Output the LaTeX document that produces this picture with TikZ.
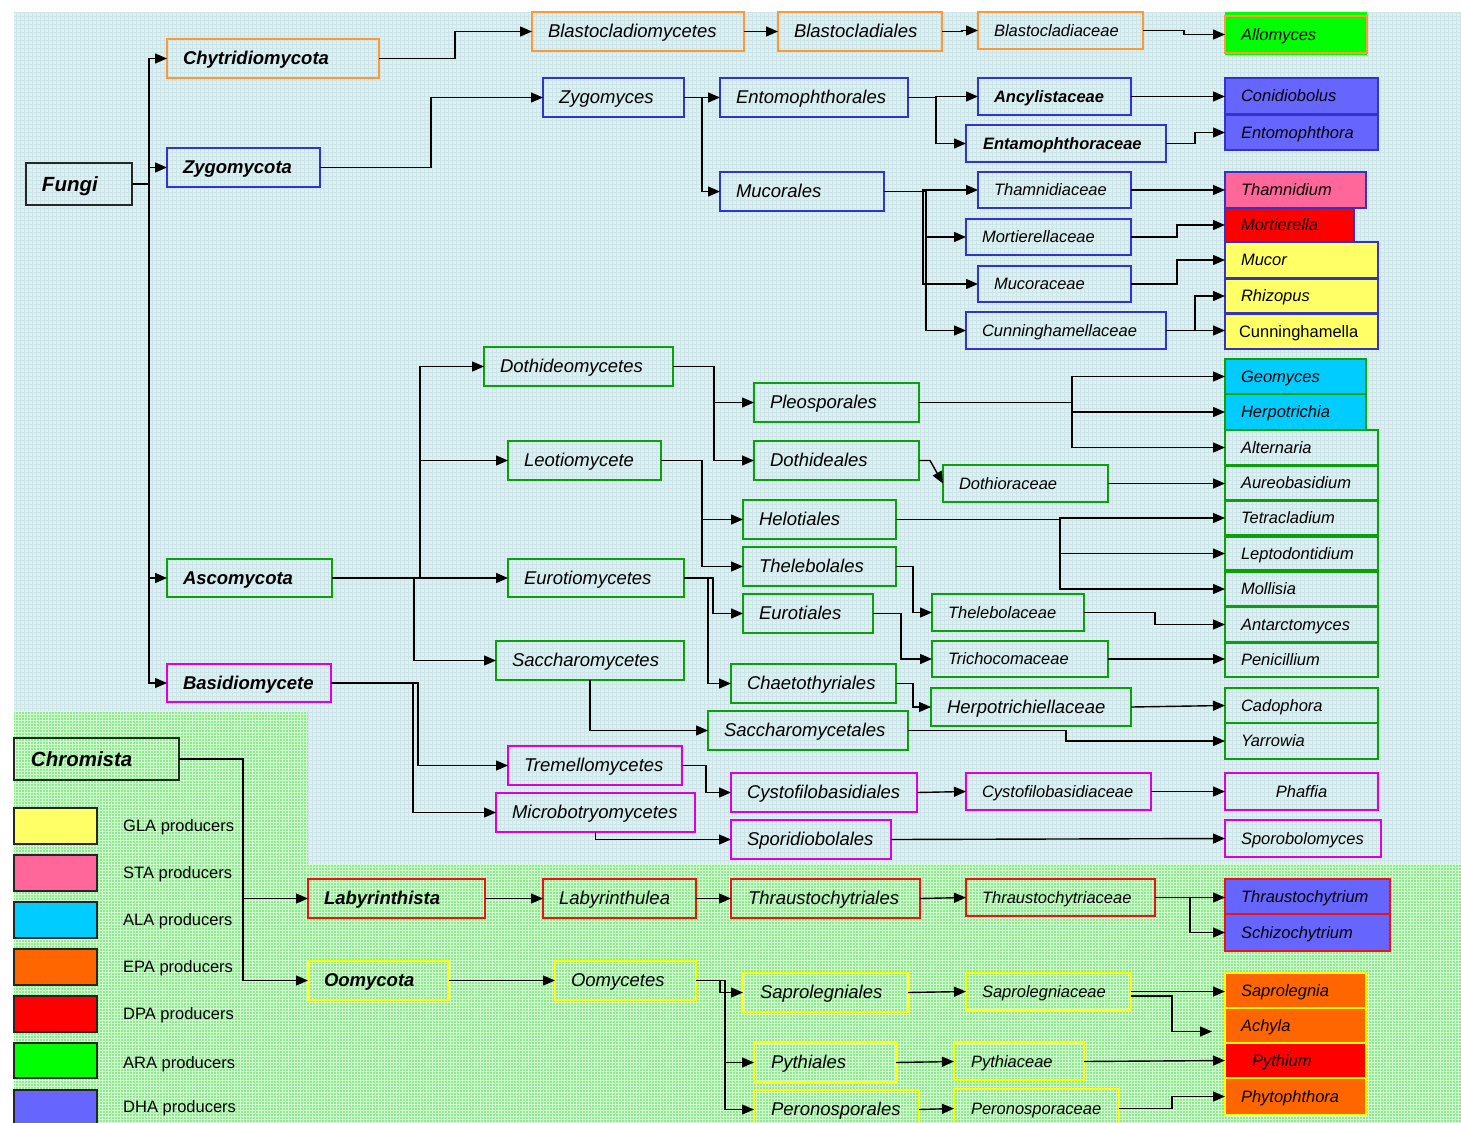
\documentclass[tikz,border=0pt]{standalone}
\usepackage{fontspec}
\setmainfont{Liberation Sans}
\usetikzlibrary{arrows.meta}
\definecolor{bgB}{RGB}{224,240,242}
\definecolor{grB}{RGB}{204,229,232}
\definecolor{bgG}{RGB}{140,236,140}
\definecolor{grG}{RGB}{212,250,212}
\definecolor{cO}{RGB}{255,153,51}
\definecolor{cB}{RGB}{51,51,204}
\definecolor{cG}{RGB}{10,160,10}
\definecolor{cM}{RGB}{220,0,220}
\definecolor{cR}{RGB}{235,20,20}
\definecolor{cY}{RGB}{255,255,0}
\definecolor{fGLA}{RGB}{255,255,102}
\definecolor{fSTA}{RGB}{255,102,153}
\definecolor{fALA}{RGB}{0,204,255}
\definecolor{fEPA}{RGB}{255,102,0}
\definecolor{fDPA}{RGB}{255,0,0}
\definecolor{fARA}{RGB}{0,255,0}
\definecolor{fDHA}{RGB}{102,102,255}
\newcommand\bx[8][16]{%
  \pgfmathsetmacro\bw{#5-#3}\pgfmathsetmacro\bh{#6-#4}%
  \node[box,#7,minimum width=\bw pt,minimum height=\bh pt,text width=\bw pt] (#2) at (#3,#4) {\noindent\hspace*{#1pt}\rule[-0.2em]{0pt}{1.1em}\mbox{#8}};}
\begin{document}
\begin{tikzpicture}[x=1pt,y=-1pt,
  box/.style={draw, line width=1.5pt, inner sep=0pt, outer sep=0pt, anchor=north west, align=left},
  L/.style={font=\fontsize{18.5}{21}\selectfont\itshape},
  S/.style={font=\fontsize{16.5}{19}\selectfont\itshape},
  LB/.style={font=\fontsize{18.5}{21}\selectfont\bfseries\itshape},
  SB/.style={font=\fontsize{16.5}{19}\selectfont\bfseries\itshape},
  XB/.style={font=\fontsize{20.5}{23}\selectfont\bfseries\itshape},
  SU/.style={font=\fontsize{16.5}{19}\selectfont},
  bO/.style={draw=cO}, bB/.style={draw=cB}, bG/.style={draw=cG},
  bM/.style={draw=cM}, bR/.style={draw=cR}, bY/.style={draw=cY}, bK/.style={draw=black!85},
  arr/.style={draw=black, line width=1.4pt, -{Triangle[length=12pt,width=10pt]}},
  legtxt/.style={SU, anchor=west, inner sep=0pt}]
\useasboundingbox (0,0) rectangle (1461,1122);
\clip (0,0) rectangle (1461,1122);
% background
\fill[white] (0,0) rectangle (1461,1122);
\fill[bgB] (14,12) rectangle (1461,864);
\draw[grB, line width=.5pt] (14,12) grid[step=4pt] (1461,864);
\fill[bgG] (14,711) rectangle (308,1122);
\fill[bgG] (308,864) rectangle (1461,1122);
\draw[grG, line width=.6pt] (14,711) grid[step=3pt] (308,1122);
\draw[grG, line width=.6pt] (308,864) grid[step=3pt] (1461,1122);

% ---------- Fungi ----------
\bx{fungi}{26}{163}{132}{205}{XB,bK}{Fungi}
\bx{chy}{167}{39}{379}{78}{LB,bO}{Chytridiomycota}
\bx{zyg}{167}{148}{320}{187}{LB,bB}{Zygomycota}
\bx{asc}{167}{559}{332}{597}{LB,bG}{Ascomycota}
\bx{bas}{167}{664}{331}{702}{LB,bM}{Basidiomycete}

\bx{blcm}{532}{12}{744}{51}{L,bO}{Blastocladiomycetes}
\bx{blcl}{778}{12}{942}{51}{L,bO}{Blastocladiales}
\bx{blca}{978}{12}{1143}{49}{S,bO}{Blastocladiaceae}
\fill[fARA] (1225,12) rectangle (1367,55);
\bx{allo}{1225}{16}{1367}{53}{S,bO,fill=fARA}{Allomyces}

\bx{zygm}{543}{78}{684}{117}{L,bB}{Zygomyces}
\bx{ento}{720}{78}{908}{117}{L,bB}{Entomophthorales}
\bx{muco}{720}{172}{884}{211}{L,bB}{Mucorales}
\bx{ancy}{978}{78}{1131}{115}{SB,bB}{Ancylistaceae}
\bx[17]{enta}{966}{125}{1166}{162}{SB,bB}{Entamophthoraceae}
\bx{coni}{1225}{78}{1378}{114}{S,bB,fill=fDHA}{Conidiobolus}
\bx{entg}{1225}{115}{1378}{150}{S,bB,fill=fDHA}{Entomophthora}
\bx{thfa}{978}{172}{1131}{208}{S,bB}{Thamnidiaceae}
\bx{mofa}{966}{219}{1131}{255}{S,bB}{Mortierellaceae}
\bx{mufa}{978}{266}{1131}{302}{S,bB}{Mucoraceae}
\bx{cufa}{966}{312}{1166}{349}{S,bB}{Cunninghamellaceae}
\bx{thge}{1225}{172}{1366}{208}{S,bB,fill=fSTA}{Thamnidium}
\bx{moge}{1225}{208}{1354}{242}{S,bB,fill=fDPA}{Mortierella}
\bx{muge}{1225}{242}{1378}{278}{S,bB,fill=fGLA}{Mucor}
\bx{rhge}{1225}{279}{1378}{313}{S,bB,fill=fGLA}{Rhizopus}
\bx[14]{cuge}{1225}{314}{1378}{349}{SU,bB,fill=fGLA}{Cunninghamella}

% ---------- Ascomycota ----------
\bx{doth}{484}{347}{673}{386}{L,bG}{Dothideomycetes}
\bx{leot}{508}{441}{661}{480}{L,bG}{Leotiomycete}
\bx{euro}{508}{559}{684}{597}{L,bG}{Eurotiomycetes}
\bx{sacc}{496}{641}{684}{680}{L,bG}{Saccharomycetes}
\bx{pleo}{754}{383}{919}{422}{L,bG}{Pleosporales}
\bx{dotl}{754}{441}{919}{480}{L,bG}{Dothideales}
\bx{helo}{743}{500}{896}{539}{L,bG}{Helotiales}
\bx{thel}{743}{547}{896}{586}{L,bG}{Thelebolales}
\bx{eurl}{743}{594}{873}{633}{L,bG}{Eurotiales}
\bx{chae}{731}{664}{896}{703}{L,bG}{Chaetothyriales}
\bx{sacl}{708}{711}{908}{750}{L,bG}{Saccharomycetales}
\bx{dotf}{943}{465}{1108}{502}{S,bG}{Dothioraceae}
\bx{thef}{932}{594}{1084}{631}{S,bG}{Thelebolaceae}
\bx{trif}{932}{641}{1108}{677}{S,bG}{Trichocomaceae}
\bx{herf}{931}{688}{1131}{726}{L,bG}{Herpotrichiellaceae}
\bx{geom}{1225}{359}{1366}{394}{S,bG,fill=fALA}{Geomyces}
\bx{herp}{1225}{394}{1366}{430}{S,bG,fill=fALA}{Herpotrichia}
\bx{alte}{1225}{430}{1378}{465}{S,bG}{Alternaria}
\bx{aure}{1225}{466}{1378}{500}{S,bG}{Aureobasidium}
\bx{tetr}{1225}{501}{1378}{535}{S,bG}{Tetracladium}
\bx{lept}{1225}{537}{1378}{570}{S,bG}{Leptodontidium}
\bx{moll}{1225}{572}{1378}{606}{S,bG}{Mollisia}
\bx{anta}{1225}{607}{1378}{642}{S,bG}{Antarctomyces}
\bx{peni}{1225}{643}{1378}{677}{S,bG}{Penicillium}
\bx{cado}{1225}{688}{1378}{723}{S,bG}{Cadophora}
\bx{yarr}{1225}{723}{1378}{759}{S,bG}{Yarrowia}

% ---------- Basidiomycete ----------
\bx{trem}{508}{746}{682}{785}{L,bM}{Tremellomycetes}
\bx{micr}{496}{793}{695}{832}{L,bM}{Microbotryomycetes}
\bx{cysl}{731}{773}{917}{812}{L,bM}{Cystofilobasidiales}
\bx{spor}{731}{820}{891}{859}{L,bM}{Sporidiobolales}
\bx{cysf}{966}{773}{1151}{810}{S,bM}{Cystofilobasidiaceae}
\bx[0]{phaf}{1225}{773}{1378}{810}{S,bM,align=center}{Phaffia}
\bx{spog}{1225}{820}{1381}{857}{S,bM}{Sporobolomyces}

% ---------- Chromista ----------
\bx[17]{chro}{14}{738}{179}{780}{XB,bK}{Chromista}
\bx{laby}{308}{879}{485}{918}{LB,bR}{Labyrinthista}
\bx{labu}{543}{879}{696}{918}{L,bR}{Labyrinthulea}
\bx[17]{thrl}{731}{879}{920}{918}{L,bR}{Thraustochytriales}
\bx{thrf}{966}{879}{1155}{916}{S,bR}{Thraustochytriaceae}
\bx{thrg}{1225}{879}{1390}{914}{S,bR,fill=fDHA}{Thraustochytrium}
\bx{schi}{1225}{914}{1390}{951}{S,bR,fill=fDHA}{Schizochytrium}
\bx{oomy}{308}{961}{449}{1000}{LB,bY}{Oomycota}
\bx{oomc}{555}{961}{696}{1000}{L,bY}{Oomycetes}
\bx[17]{sapl}{743}{973}{908}{1012}{L,bY}{Saprolegniales}
\bx[17]{pytl}{754}{1043}{896}{1082}{L,bY}{Pythiales}
\bx[17]{perl}{754}{1090}{919}{1129}{L,bY}{Peronosporales}
\bx{sapf}{966}{973}{1131}{1010}{S,bY}{Saprolegniaceae}
\bx[17]{pytf}{954}{1043}{1084}{1080}{S,bY}{Pythiaceae}
\bx[17]{perf}{954}{1089}{1119}{1128}{S,bY}{Peronosporaceae}
\bx{sapg}{1225}{973}{1366}{1008}{S,bY,fill=fEPA}{Saprolegnia}
\bx{achy}{1225}{1008}{1366}{1043}{S,bY,fill=fEPA}{Achyla}
\bx[27]{pyge}{1225}{1043}{1366}{1078}{S,bY,fill=fDPA}{Pythium}
\bx{phyt}{1225}{1078}{1366}{1115}{S,bY,fill=fEPA}{Phytophthora}

% ---------- Legend ----------
\bx{lg1}{14}{808}{97}{844}{bK,fill=fGLA}{}
\bx{lg2}{14}{855}{97}{891}{bK,fill=fSTA}{}
\bx{lg3}{14}{902}{97}{938}{bK,fill=fALA}{}
\bx{lg4}{14}{949}{97}{985}{bK,fill=fEPA}{}
\bx{lg5}{14}{996}{97}{1032}{bK,fill=fDPA}{}
\bx{lg6}{14}{1043}{97}{1078}{bK,fill=fARA}{}
\bx{lg7}{14}{1090}{97}{1128}{bK,fill=fDHA}{}
\node[legtxt] (t1) at (123,827.5) {GLA producers};
\node[legtxt] (t2) at (123,874.5) {STA producers};
\node[legtxt] (t3) at (123,921.5) {ALA producers};
\node[legtxt] (t4) at (123,968.5) {EPA producers};
\node[legtxt] (t5) at (123,1015.5) {DPA producers};
\node[legtxt] (t6) at (123,1064) {ARA producers};
\node[legtxt] (t7) at (123,1108) {DHA producers};

% ---------- Connectors ----------
\foreach \t in {chy,zyg,asc,bas} \draw[arr] (fungi.east) -- ++(17,0) |- (\t.west);
\draw[arr] (chy.east) -- ++(76,0) |- (blcm.west);
\draw[arr] (blcm.east) -- (blcl.west);
\draw[arr] (blcl.east) -- ++(20,0) |- (blca.west);
\draw[arr] (blca.east) -- ++(41,0) |- (allo.west);
\draw[arr] (zyg.east) -- ++(111,0) |- (zygm.west);
\draw[arr] (zygm.east) -- ++(18,0) |- (ento.west);
\draw[arr] (zygm.east) -- ++(18,0) |- (muco.west);
\draw[arr] (ento.east) -- ++(28,0) |- (ancy.west);
\draw[arr] (ento.east) -- ++(28,0) |- (enta.west);
\draw[arr] (ancy.east) -- (coni.west |- ancy.east);
\draw[arr] (enta.east) -- ++(29,0) |- (entg.west);
\draw[arr] (muco.east) -- ++(39,0) |- (thfa.west);
\draw[arr] (muco.east) -- ++(42,0) |- (mofa.west);
\draw[arr] (muco.east) -- ++(39,0) |- (mufa.west);
\draw[arr] (muco.east) -- ++(42,0) |- (cufa.west);
\draw[arr] (thfa.east) -- (thge.west |- thfa.east);
\draw[arr] (mofa.east) -- ++(46,0) |- (moge.west);
\draw[arr] (mufa.east) -- ++(46,0) |- (muge.west);
\draw[arr] (cufa.east) -- ++(29,0) |- (rhge.west);
\draw[arr] (cufa.east) -- (cuge.west |- cufa.east);

\draw[arr] (asc.east) -- ++(88,0) |- (doth.west);
\draw[arr] (asc.east) -- ++(88,0) |- (leot.west);
\draw[arr] (asc.east) -- (euro.west |- asc.east);
\draw[arr] (asc.east) -- ++(82,0) |- (sacc.west);
\draw[arr] (doth.east) -- ++(41,0) |- (pleo.west);
\draw[arr] (doth.east) -- ++(41,0) |- (dotl.west);
\draw[arr] (leot.east) -- ++(41,0) |- (helo.west);
\draw[arr] (leot.east) -- ++(41,0) |- (thel.west);
\draw[arr] (euro.east) -- ++(29,0) |- (eurl.west);
\draw[arr] (euro.east) -- ++(24,0) |- (chae.west);
\draw[arr] (sacc.south) |- (sacl.west);
\foreach \t in {geom,herp,alte} \draw[arr] (pleo.east) -- ++(153,0) |- (\t.west);
\draw[arr] (dotl.east) -- ++(11,0) -- (dotf.west);
\draw[arr] (dotf.east) -- (aure.west |- dotf.east);
\foreach \t in {tetr,lept,moll} \draw[arr] (helo.east) -- ++(164,0) |- (\t.west);
\draw[arr] (thel.east) -- ++(17,0) |- (thef.west);
\draw[arr] (eurl.east) -- ++(28,0) |- (trif.west);
\draw[arr] (chae.east) -- ++(17,0) |- (herf.west);
\draw[arr] (thef.east) -- ++(71,0) |- (anta.west);
\draw[arr] (trif.east) -- (peni.west |- trif.east);
\draw[arr] (herf.east) -- (cado.west);
\draw[arr] (sacl.east) -- ++(158,0) |- (yarr.west);

\draw[arr] (bas.east) -- ++(87,0) |- (trem.west);
\draw[arr] (bas.east) -- ++(82,0) |- (micr.west);
\draw[arr] (trem.east) -- ++(24,0) |- (cysl.west);
\draw[arr] (micr.south) |- (spor.west);
\draw[arr] (cysl.east) -- (cysf.west);
\draw[arr] (cysf.east) -- (phaf.west);
\draw[arr] (spor.east) -- (spog.west);

\draw[arr] (chro.east) -- ++(64,0) |- (laby.west);
\draw[arr] (chro.east) -- ++(64,0) |- (oomy.west);
\draw[arr] (laby.east) -- (labu.west);
\draw[arr] (labu.east) -- (thrl.west);
\draw[arr] (thrl.east) -- (thrf.west);
\draw[arr] (thrf.east) -- (thrg.west |- thrf.east);
\draw[arr] (thrf.east) -- ++(35,0) |- (schi.west);
\draw[arr] (oomy.east) -- (oomc.west);
\draw[arr] (oomc.east) -- ++(24,0) |- (sapl.west);
\draw[arr] (oomc.east) -- ++(29,0) |- (pytl.west);
\draw[arr] (oomc.east) -- ++(29,0) |- (perl.west);
\draw[arr] (sapl.east) -- (sapf.west);
\draw[arr] (pytl.east) -- (pytf.west);
\draw[arr] (perl.east) -- (perf.west);
\draw[arr] (sapf.east) -- (sapg.west |- sapf.east);
\coordinate (achyin) at ([xshift=-13pt,yshift=-6pt]achy.west);
\draw[arr] ([yshift=-4.5pt]sapf.east) -- ++(41,0) |- (achyin);
\draw[arr] (pytf.east) -- (pyge.west);
\draw[arr] (perf.east) -- ++(53,0) |- (phyt.west);
\end{tikzpicture}
\end{document}
